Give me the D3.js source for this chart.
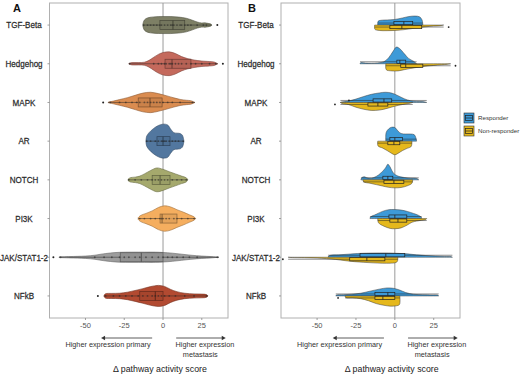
<!DOCTYPE html>
<html>
<head>
<meta charset="utf-8">
<script src="https://cdn.jsdelivr.net/npm/d3@7"></script>
<style>
  body { margin: 0; background: #fff; }
  svg text { font-family: "Liberation Sans", Arial, sans-serif; }
</style>
</head>
<body>
<div id="chart"></div>
<script>
// ---- data ----
const pathways = ["TGF-Beta", "Hedgehog", "MAPK", "AR", "NOTCH", "PI3K", "JAK/STAT1-2", "NFkB"];
const xTicks = [-50, -25, 0, 25];
const groups = ["Responder", "Non-responder"];

// panel A (all samples)
const allQ1 = [-2, 1.3, -16, -3.9, -7, -1.9, -27.6, -15];
const allMedian = [6.4, 5.8, -8.4, 0, -1.9, -0.6, -14, -5];
const allQ3 = [14, 18, -0.6, 4.5, 4.5, 9, 0, 0];
const allLow = [-12.9, -21.9, -35.3, -11, -22.5, -16, -67, -38];
const allHigh = [31.5, 35.3, 20.6, 13.5, 16, 21, 36, 29];
const allOutliers = [[35], [38.6], [-38.6], [], [], [], [-70.7], [-42]];
const allPoints = [
  [-12.5, -10, -8, -6, -4, -2, -1, 1, 3, 5, 6, 7, 9, 11, 12, 14, 16, 18, 22, 26, 28],
  [-21.5, -6, -3, -1, 1, 2, 4, 5, 6, 8, 10, 12, 15, 18, 21, 25, 30, 34],
  [-34, -28, -24, -20, -17, -15, -12, -10, -8, -6, -4, -2, 0, 3, 6, 11, 19],
  [-10.5, -8, -5, -3, -1, 0, 1, 2, 4, 6, 8, 10, 13],
  [-22, -18, -14, -10, -7, -5, -3, -1, 1, 3, 6, 9, 12, 15],
  [-15, -12, -8, -5, -2, -1, 0, 2, 4, 7, 9, 12, 16, 20],
  [-66, -44, -38, -33, -28, -25, -22, -18, -15, -11, -7, -3, 0, 3, 6, 9, 13, 17, 22, 35],
  [-37, -32, -28, -24, -20, -16, -13, -10, -7, -5, -3, -1, 1, 4, 8, 14, 20, 28]
];
// density profiles: [value, relative density]
const allDensity = [
  [[-13, 0.05], [-12, 0.3], [-10, 0.42], [-6, 0.48], [0, 0.5], [5, 0.5], [10, 0.47], [15, 0.4], [19, 0.28], [22, 0.18], [25, 0.12], [27, 0.13], [29, 0.1], [31, 0.05], [31.5, 0]],
  [[-22, 0.02], [-20, 0.07], [-16, 0.07], [-12, 0.09], [-9, 0.2], [-6, 0.38], [-3, 0.55], [0, 0.66], [4, 0.7], [8, 0.6], [12, 0.42], [16, 0.3], [20, 0.22], [25, 0.16], [30, 0.13], [33, 0.1], [35.3, 0]],
  [[-35.3, 0.02], [-32, 0.08], [-28, 0.17], [-23, 0.28], [-18, 0.42], [-13, 0.55], [-8, 0.6], [-3, 0.52], [2, 0.4], [7, 0.27], [11, 0.18], [15, 0.13], [18, 0.1], [20.6, 0]],
  [[-11, 0.05], [-10.5, 0.3], [-9, 0.5], [-6, 0.75], [-3, 0.92], [0, 1.0], [3, 0.95], [5, 0.7], [7, 0.5], [9, 0.47], [11, 0.45], [12.5, 0.35], [13.5, 0]],
  [[-22.5, 0.05], [-21, 0.13], [-18, 0.16], [-15, 0.22], [-12, 0.35], [-8, 0.55], [-4, 0.7], [0, 0.62], [4, 0.48], [8, 0.35], [12, 0.22], [15, 0.12], [16, 0]],
  [[-16, 0.05], [-14.5, 0.18], [-11, 0.3], [-7, 0.45], [-3, 0.65], [1, 0.75], [5, 0.68], [9, 0.52], [13, 0.38], [17, 0.22], [20, 0.1], [21, 0]],
  [[-67, 0.02], [-60, 0.04], [-50, 0.07], [-44, 0.12], [-40, 0.18], [-34, 0.25], [-28, 0.29], [-20, 0.3], [-12, 0.3], [-5, 0.3], [0, 0.28], [6, 0.24], [12, 0.18], [18, 0.12], [25, 0.07], [31, 0.04], [36, 0]],
  [[-38, 0.05], [-37, 0.13], [-33, 0.15], [-28, 0.16], [-23, 0.22], [-18, 0.32], [-13, 0.43], [-8, 0.55], [-3, 0.62], [1, 0.56], [5, 0.38], [9, 0.25], [14, 0.16], [20, 0.12], [25, 0.11], [28, 0.08], [29, 0]]
];

// panel B, responders
const respQ1 = [-0.6, 1.3, -14, -3.2, -7.7, -3.8, -22.4, -12.8];
const respMedian = [5.8, 3.2, -7, 0, -4.5, 0, -5.8, -4.5];
const respQ3 = [11.5, 7, -2, 5, -1.3, 7.7, 6.4, 0];
const respLow = [-10.9, -22.4, -35, -5.8, -21.8, -16, -43, -38];
const respHigh = [17.9, 14, 20.5, 14, 15.4, 17.3, 37, 28.2];
const respOutliers = [[], [], [-29.5], [], [], [], [], []];
const respDensity = [
  [[-11, 0], [-10.8, 0.22], [-9, 0.28], [-5, 0.3], [0, 0.33], [5, 0.42], [9, 0.5], [13, 0.53], [16, 0.48], [17.5, 0.3], [18, 0]],
  [[-22.4, 0], [-22, 0.06], [-19, 0.04], [-15, 0.03], [-11, 0.05], [-7, 0.12], [-4, 0.35], [-1, 0.75], [1, 0.98], [3, 0.9], [6, 0.6], [9, 0.3], [12, 0.15], [14, 0]],
  [[-35, 0], [-34, 0.03], [-30, 0.08], [-25, 0.2], [-20, 0.35], [-15, 0.48], [-10, 0.56], [-6, 0.6], [-2, 0.55], [2, 0.4], [6, 0.22], [10, 0.1], [14, 0.06], [18, 0.05], [20.5, 0]],
  [[-5.8, 0], [-5.6, 0.5], [-4, 0.72], [-2, 0.82], [0, 0.8], [2, 0.6], [4, 0.45], [7, 0.42], [10, 0.42], [12.5, 0.38], [13.5, 0.2], [14, 0]],
  [[-21.8, 0.02], [-21, 0.15], [-19.5, 0.18], [-18, 0.12], [-15, 0.1], [-12, 0.2], [-9, 0.4], [-6, 0.7], [-4.5, 0.92], [-3, 0.75], [-1, 0.4], [2, 0.22], [6, 0.14], [10, 0.1], [14, 0.08], [15.4, 0]],
  [[-16, 0], [-15.5, 0.1], [-12, 0.25], [-8, 0.42], [-4, 0.52], [0, 0.53], [4, 0.5], [8, 0.42], [12, 0.3], [15, 0.2], [17, 0.08], [17.3, 0]],
  [[-43, 0], [-42, 0.1], [-36, 0.14], [-30, 0.18], [-24, 0.22], [-18, 0.24], [-10, 0.25], [-4, 0.25], [2, 0.23], [8, 0.2], [14, 0.14], [20, 0.1], [26, 0.07], [32, 0.05], [36, 0.04], [37, 0]],
  [[-38, 0], [-37.5, 0.05], [-33, 0.07], [-28, 0.1], [-22, 0.16], [-16, 0.28], [-10, 0.4], [-5, 0.47], [-1, 0.45], [3, 0.35], [7, 0.2], [12, 0.1], [18, 0.07], [24, 0.06], [27.5, 0.05], [28.2, 0]]
];

// panel B, non-responders
const nonQ1 = [-3.2, 3.8, -17.3, -4.5, -7, -3.2, -29, -12.8];
const nonMedian = [4.5, 7, -10.9, -0.6, -0.6, 2, -18, -7.7];
const nonQ3 = [17.3, 18, -4.5, 3.2, 5.8, 7.7, -6.4, 0];
const nonLow = [-12.8, -5.8, -35, -11, -20.5, -11, -68.6, -32];
const nonHigh = [31.4, 35.9, 11.5, 11, 11.5, 20.5, 1.9, 3.2];
const nonOutliers = [[34.6], [39], [-38.5], [], [], [], [-72], [-36.5]];
const nonDensity = [
  [[-13, 0], [-12.8, 0.25], [-10, 0.32], [-5, 0.33], [0, 0.32], [5, 0.28], [10, 0.22], [15, 0.15], [20, 0.1], [25, 0.06], [29, 0.04], [31.4, 0]],
  [[-5.8, 0], [-5.5, 0.35], [-2, 0.42], [2, 0.42], [6, 0.35], [10, 0.28], [15, 0.2], [20, 0.14], [25, 0.1], [30, 0.06], [34, 0.03], [35.9, 0]],
  [[-35, 0], [-34, 0.06], [-30, 0.12], [-25, 0.28], [-20, 0.4], [-15, 0.47], [-10, 0.45], [-5, 0.35], [0, 0.22], [5, 0.12], [9, 0.06], [11.5, 0]],
  [[-11, 0], [-10.8, 0.28], [-8, 0.4], [-5, 0.55], [-2, 0.72], [0, 0.8], [2, 0.72], [5, 0.55], [8, 0.42], [10.5, 0.32], [11, 0]],
  [[-20.5, 0], [-20, 0.12], [-16, 0.2], [-12, 0.28], [-8, 0.36], [-4, 0.44], [0, 0.47], [4, 0.45], [8, 0.35], [11, 0.2], [11.5, 0]],
  [[-11, 0], [-10.5, 0.25], [-7, 0.45], [-3, 0.58], [0, 0.6], [4, 0.55], [8, 0.38], [11, 0.22], [14, 0.15], [17, 0.1], [20, 0.05], [20.5, 0]],
  [[-68.6, 0], [-66, 0.02], [-58, 0.03], [-50, 0.05], [-44, 0.08], [-38, 0.13], [-32, 0.2], [-26, 0.26], [-20, 0.3], [-14, 0.33], [-8, 0.35], [-3, 0.35], [0, 0.33], [1.6, 0.25], [1.9, 0]],
  [[-32, 0], [-31.5, 0.1], [-27, 0.12], [-22, 0.16], [-17, 0.28], [-12, 0.45], [-7, 0.55], [-3, 0.6], [1, 0.58], [3, 0.5], [3.2, 0]]
];

const pathwayColors = ["#7d7f65", "#c4695c", "#da8c50", "#52779f", "#a5a96d", "#f5ae5f", "#9d9d9d", "#b24a31"];
const groupColors = ["#3d9ad8", "#e5b81c"];

// ---- layout ----
const width = 520, height = 374;
const plotTop = 3, plotBottom = 318;

const svg = d3.select("#chart")
  .append("svg")
  .attr("width", width)
  .attr("height", height);

const y = d3.scalePoint()
  .domain(pathways)
  .range([plotTop, plotBottom])
  .padding(0.57);

const w = d3.scaleLinear().domain([0, 1]).range([0, 17]);

function drawFrame(x, letter, letterX, labelX) {
  const g = svg.append("g");
  const [x0, x1] = x.range();
  g.append("rect")
    .attr("x", x0).attr("y", plotTop)
    .attr("width", x1 - x0).attr("height", plotBottom - plotTop)
    .attr("fill", "none").attr("stroke", "#b0b0b0").attr("stroke-width", 1);
  g.append("line")
    .attr("x1", x(0)).attr("x2", x(0))
    .attr("y1", plotTop).attr("y2", plotBottom)
    .attr("stroke", "#9a9a9a").attr("stroke-width", 1);

  // category labels (condensed look) + ticks
  g.selectAll(".cat")
    .data(pathways)
    .join("text")
    .attr("transform", d => `translate(${labelX},${y(d) + 3.3}) scale(0.84,1)`)
    .attr("text-anchor", "middle")
    .style("font-size", "9.6px")
    .attr("fill", "#2a2a2a")
    .attr("stroke", "#2a2a2a").attr("stroke-width", 0.25)
    .text(d => d);
  g.selectAll(".ytick")
    .data(pathways)
    .join("line")
    .attr("x1", x0 - 2).attr("x2", x0)
    .attr("y1", d => y(d)).attr("y2", d => y(d))
    .attr("stroke", "#888").attr("stroke-width", 0.8);

  // x axis
  g.selectAll(".xtick")
    .data(xTicks)
    .join("line")
    .attr("x1", d => x(d)).attr("x2", d => x(d))
    .attr("y1", plotBottom).attr("y2", plotBottom + 2)
    .attr("stroke", "#888").attr("stroke-width", 0.8);
  g.selectAll(".xlab")
    .data(xTicks)
    .join("text")
    .attr("x", d => x(d))
    .attr("y", plotBottom + 9.5)
    .attr("text-anchor", "middle")
    .style("font-size", "7.5px")
    .attr("fill", "#555")
    .text(d => d);

  // panel letter
  g.append("text")
    .attr("x", letterX).attr("y", 12)
    .style("font-size", "11px").style("font-weight", "bold")
    .attr("fill", "#111")
    .text(letter);

  // direction arrows
  const ay = 338;
  const ann = g.append("g").attr("fill", "#333")
    .style("font-family", "'Open Sans', sans-serif")
    .style("font-size", "7.3px");
  ann.append("line")
    .attr("x1", x(-7)).attr("x2", x(-38))
    .attr("y1", ay).attr("y2", ay)
    .attr("stroke", "#333").attr("stroke-width", 0.8);
  ann.append("path")
    .attr("d", `M${x(-38) - 3},${ay} l4,-2.2 l0,4.4 z`);
  ann.append("line")
    .attr("x1", x(8.5)).attr("x2", x(38.5))
    .attr("y1", ay).attr("y2", ay)
    .attr("stroke", "#333").attr("stroke-width", 0.8);
  ann.append("path")
    .attr("d", `M${x(38.5) + 3},${ay} l-4,-2.2 l0,4.4 z`);
  ann.append("text")
    .attr("x", x(-35.5)).attr("y", ay + 9)
    .attr("text-anchor", "middle")
    .text("Higher expression primary");
  ann.append("text")
    .attr("x", x(27)).attr("y", ay + 9)
    .attr("text-anchor", "middle")
    .text("Higher expression");
  ann.append("text")
    .attr("x", x(24)).attr("y", ay + 19)
    .attr("text-anchor", "middle")
    .text("metastasis");

  g.append("text")
    .attr("x", x(-2)).attr("y", 372)
    .attr("text-anchor", "middle")
    .style("font-size", "8.8px")
    .attr("fill", "#222")
    .text("\u0394 pathway activity score");
}

// ---------------- Panel A ----------------
const xA = d3.scaleLinear().domain([-73.2, 41.9]).range([49.5, 228]);
drawFrame(xA, "A", 13, 24);

const gA = svg.append("g");
pathways.forEach((p, i) => {
  const cy = y(p);
  const col = d3.color(pathwayColors[i]);
  const area = d3.area()
    .x(d => xA(d[0]))
    .y0(d => cy - w(d[1]))
    .y1(d => cy + w(d[1]))
    .curve(d3.curveCatmullRom);
  gA.append("path")
    .datum(allDensity[i])
    .attr("d", area)
    .attr("fill", col.formatHex())
    .attr("stroke", col.darker(1.2).formatHex())
    .attr("stroke-width", 0.6);
  // whiskers
  gA.append("line")
    .attr("x1", xA(allLow[i])).attr("x2", xA(allHigh[i]))
    .attr("y1", cy).attr("y2", cy)
    .attr("stroke", "#222").attr("stroke-opacity", 0.6).attr("stroke-width", 0.8);
  // box
  gA.append("rect")
    .attr("x", xA(allQ1[i])).attr("y", cy - 4.5)
    .attr("width", xA(allQ3[i]) - xA(allQ1[i])).attr("height", 9)
    .attr("fill", col.darker(0.25).formatHex()).attr("fill-opacity", 0.8)
    .attr("stroke", col.darker(1.6).formatHex()).attr("stroke-width", 0.7);
  gA.append("line")
    .attr("x1", xA(allMedian[i])).attr("x2", xA(allMedian[i]))
    .attr("y1", cy - 4.5).attr("y2", cy + 4.5)
    .attr("stroke", col.darker(2).formatHex()).attr("stroke-width", 0.9);
  // points
  gA.append("g")
    .selectAll("circle")
    .data(allPoints[i])
    .join("circle")
    .attr("cx", d => xA(d)).attr("cy", cy)
    .attr("r", 0.9)
    .attr("fill", "#222").attr("fill-opacity", 0.55);
  gA.append("g")
    .selectAll("circle")
    .data(allOutliers[i])
    .join("circle")
    .attr("cx", d => xA(d)).attr("cy", cy)
    .attr("r", 1)
    .attr("fill", "#222");
});

// ---------------- Panel B ----------------
const xB = d3.scaleLinear().domain([-73.2, 41.9]).range([281, 460]);
drawFrame(xB, "B", 248, 256);

const gB = svg.append("g");
const sets = [
  { dens: respDensity, q1: respQ1, med: respMedian, q3: respQ3, lo: respLow, hi: respHigh, out: respOutliers, dir: -1 },
  { dens: nonDensity, q1: nonQ1, med: nonMedian, q3: nonQ3, lo: nonLow, hi: nonHigh, out: nonOutliers, dir: 1 }
];
pathways.forEach((p, i) => {
  const cy = y(p);
  sets.forEach((s, k) => {
    const area = d3.area()
      .x(d => xB(d[0]))
      .y0(cy)
      .y1(d => cy + s.dir * w(d[1]))
      .curve(d3.curveCatmullRom);
    gB.append("path")
      .datum(s.dens[i])
      .attr("d", area)
      .attr("fill", groupColors[k])
      .attr("stroke", "#3a3a3a")
      .attr("stroke-width", 0.5);
  });
  sets.forEach((s, k) => {
    const b0 = s.dir < 0 ? cy - 3.6 : cy + 0.4;
    const bm = b0 + 1.6;
    gB.append("line")
      .attr("x1", xB(s.lo[i])).attr("x2", xB(s.hi[i]))
      .attr("y1", bm).attr("y2", bm)
      .attr("stroke", "#222").attr("stroke-width", 0.5);
    gB.append("rect")
      .attr("x", xB(s.q1[i])).attr("y", b0)
      .attr("width", xB(s.q3[i]) - xB(s.q1[i])).attr("height", 3.2)
      .attr("fill", groupColors[k])
      .attr("stroke", "#222").attr("stroke-width", 0.7);
    gB.append("line")
      .attr("x1", xB(s.med[i])).attr("x2", xB(s.med[i]))
      .attr("y1", b0).attr("y2", b0 + 3.2)
      .attr("stroke", "#222").attr("stroke-width", 0.8);
    gB.append("g")
      .selectAll("circle")
      .data(s.out[i])
      .join("circle")
      .attr("cx", d => xB(d)).attr("cy", bm)
      .attr("r", 0.9)
      .attr("fill", "#222");
  });
});

// legend
const legend = svg.append("g").attr("transform", "translate(464,113)");
groups.forEach((gname, k) => {
  const ly = k * 13;
  legend.append("rect")
    .attr("x", 0).attr("y", ly)
    .attr("width", 10).attr("height", 10)
    .attr("fill", groupColors[k])
    .attr("stroke", "#333").attr("stroke-width", 0.6);
  legend.append("rect")
    .attr("x", 1.5).attr("y", ly + 2.5)
    .attr("width", 7).attr("height", 5)
    .attr("fill", "none")
    .attr("stroke", "#222").attr("stroke-width", 0.7);
  legend.append("line")
    .attr("x1", 1.5).attr("x2", 8.5)
    .attr("y1", ly + 5).attr("y2", ly + 5)
    .attr("stroke", "#222").attr("stroke-width", 0.7);
  legend.append("text")
    .attr("x", 14).attr("y", ly + 7.3)
    .style("font-size", "6.2px")
    .attr("fill", "#333")
    .text(gname);
});
</script>
</body>
</html>
